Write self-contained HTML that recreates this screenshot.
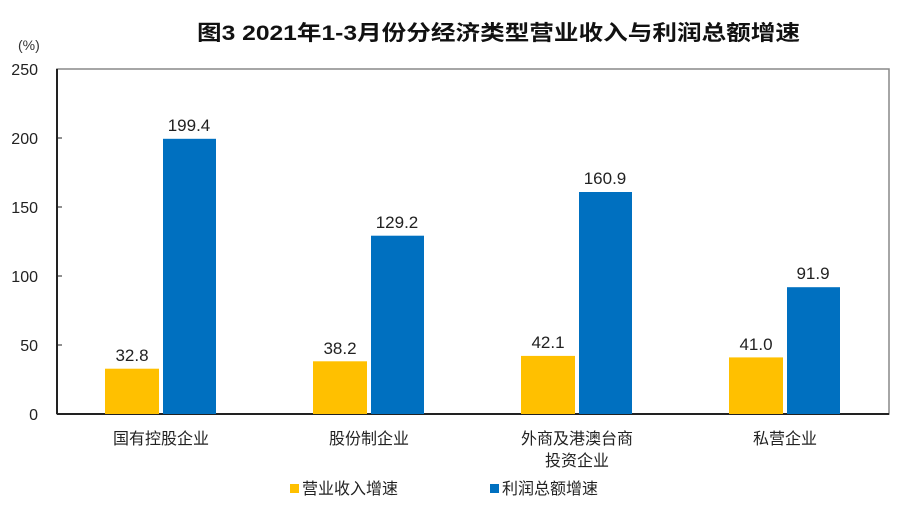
<!DOCTYPE html>
<html><head><meta charset="utf-8"><style>
body{margin:0;background:#fff;}
svg text{font-family:"Liberation Sans","Noto Sans CJK SC",sans-serif;}
</style></head><body>
<svg width="900" height="511" xmlns="http://www.w3.org/2000/svg">
<rect width="900" height="511" fill="#fff"/>
<text x="197" y="40" font-size="21" font-weight="bold" fill="#111" textLength="603" lengthAdjust="spacingAndGlyphs">图3  2021年1-3月份分经济类型营业收入与利润总额增速</text>
<text x="18" y="50" font-size="14" fill="#333">(%)</text>
<rect x="57" y="69" width="832" height="345" fill="none" stroke="#888" stroke-width="1.5"/>
<line x1="57" y1="69" x2="57" y2="414" stroke="#222" stroke-width="2"/>
<line x1="57" y1="414" x2="889" y2="414" stroke="#222" stroke-width="2"/>
<g font-size="16" fill="#222" text-anchor="end">
<text x="38" y="75">250</text><text x="38" y="144">200</text><text x="38" y="213">150</text><text x="38" y="282">100</text><text x="38" y="351">50</text><text x="38" y="420">0</text>
</g>
<g>
<line x1="57" y1="138" x2="62" y2="138" stroke="#222"/><line x1="57" y1="207" x2="62" y2="207" stroke="#222"/><line x1="57" y1="276" x2="62" y2="276" stroke="#222"/><line x1="57" y1="345" x2="62" y2="345" stroke="#222"/>
</g>
<g>
<rect x="105" y="368.7" width="54" height="45.3" fill="#FFC000"/><rect x="163" y="138.8" width="53" height="275.2" fill="#0070C0"/>
<rect x="313" y="361.3" width="54" height="52.7" fill="#FFC000"/><rect x="371" y="235.7" width="53" height="178.3" fill="#0070C0"/>
<rect x="521" y="355.9" width="54" height="58.1" fill="#FFC000"/><rect x="579" y="192" width="53" height="222" fill="#0070C0"/>
<rect x="729" y="357.4" width="54" height="56.6" fill="#FFC000"/><rect x="787" y="287.2" width="53" height="126.8" fill="#0070C0"/>
</g>
<g font-size="17" fill="#222" text-anchor="middle">
<text x="132" y="361">32.8</text><text x="189" y="131">199.4</text>
<text x="340" y="354">38.2</text><text x="397" y="228">129.2</text>
<text x="548" y="348">42.1</text><text x="605" y="184">160.9</text>
<text x="756" y="350">41.0</text><text x="813" y="279">91.9</text>
</g>
<g font-size="16" fill="#222" text-anchor="middle">
<text x="161" y="444">国有控股企业</text>
<text x="369" y="444">股份制企业</text>
<text x="577" y="444">外商及港澳台商</text>
<text x="577" y="466">投资企业</text>
<text x="785" y="444">私营企业</text>
</g>
<rect x="290" y="484" width="9" height="9" fill="#FFC000"/>
<text x="302" y="494" font-size="16" fill="#222">营业收入增速</text>
<rect x="490" y="484" width="9" height="9" fill="#0070C0"/>
<text x="502" y="494" font-size="16" fill="#222">利润总额增速</text>
</svg>
</body></html>
